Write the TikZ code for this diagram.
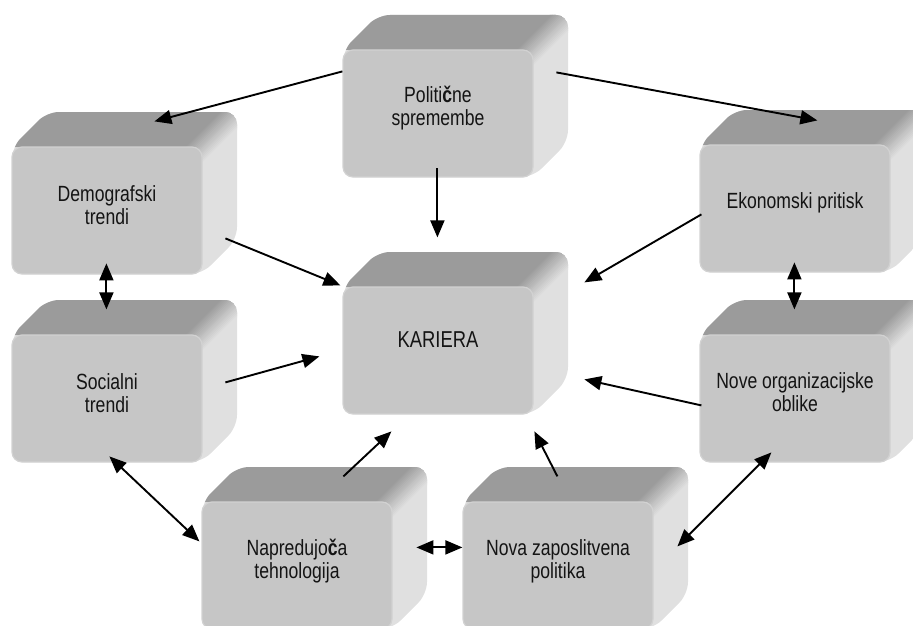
\documentclass[tikz,border=0pt]{standalone}
\usepackage{fontspec}
\setmainfont{Liberation Sans}[FakeStretch=0.8]
\usetikzlibrary{arrows.meta}
\definecolor{topc}{HTML}{9B9B9B}
\definecolor{sidec}{HTML}{E0E0E0}
\definecolor{frontc}{HTML}{C6C6C6}
\definecolor{edgec}{HTML}{D2D2D2}
\definecolor{txtc}{HTML}{141414}
\tikzset{
  face/.style={rectangle, rounded corners=10pt, fill=frontc, draw=edgec, line width=1.2pt,
    minimum width=190pt, minimum height=127pt, inner sep=0pt},
  lbl/.style={align=center, text=txtc, inner sep=0pt},
  tip/.style={Triangle[length=17pt,width=14pt]},
  arr/.style={line width=1.9pt, -{Triangle[length=17pt,width=14pt]}},
  darr/.style={line width=1.9pt, {Triangle[length=17pt,width=14pt]}-{Triangle[length=17pt,width=14pt]}},
}
\newcommand\cubebox[6]{% name, X, Y, text, text offset, font size
  \begin{scope}
    \clip[rounded corners=12pt] (#2,#3) -- ++(35,-35) -- ++(190,0) -- ++(0,127) -- ++(-35,35) -- ++(-190,0) -- cycle;
    \fill[sidec] (#2-5,#3-40) rectangle (#2+230,#3+135);
    \fill[topc] (#2,#3) -- ++(35,-35) -- ++(190,0) -- ++(-35,35) -- cycle;
    \foreach \t in {-12,-10.5,...,12}{
      \pgfmathsetmacro\pp{(\t+12)*100/24}
      \draw[line width=1.9pt, color=sidec!\pp!topc]
        (#2+190+\t*0.7071-20, #3+\t*0.7071+20) -- ++(80,-80);
    }
  \end{scope}
  \node[face] (#1) at (#2+95,#3+63.5) {};
  \node[lbl, font=\fontsize{#6}{23}\selectfont] (#1-t) at (#2+95,#3+63.5-#5) {#4};
}
\begin{document}
\begin{tikzpicture}[x=1pt, y=-1pt]
\useasboundingbox (0,0) rectangle (913,626);
\clip (0,0) rectangle (913,626);

\cubebox{pol}{343}{50}{Politi\textbf{č}ne\\spremembe}{5}{22}
\cubebox{dem}{12}{147}{Demografski\\trendi}{5}{22}
\cubebox{ekon}{700}{145}{Ekonomski pritisk}{6}{22}
\cubebox{kar}{343}{287}{KARIERA}{11}{23}
\cubebox{soc}{12}{335}{Socialni\\trendi}{5}{22}
\cubebox{nove}{700}{335}{Nove organizacijske\\oblike}{6}{22}
\cubebox{napr}{202}{502}{Napredujo\textbf{č}a\\tehnologija}{4}{22}
\cubebox{nova}{463}{502}{Nova zaposlitvena\\politika}{4}{22}

% connectors
\draw[arr] ([shift={(0,22)}]pol.north west) -- ([shift={(143,-25)}]dem.north west);
\draw[arr] ([shift={(214,23)}]pol.north west) -- ([shift={(118,-24)}]ekon.north west);
\draw[arr] ([shift={(95,119)}]pol.north west) -- ([shift={(95,-49)}]kar.north west);
\draw[arr] ([shift={(214,92)}]dem.north west) -- ([shift={(-2,-1)}]kar.north west);
\draw[darr] ([shift={(95,117)}]dem.north west) -- ([shift={(95,-25)}]soc.north west);
\draw[arr] ([shift={(214,48)}]soc.north west) -- ([shift={(-23,70)}]kar.north west);
\draw[darr] ([shift={(98,122)}]soc.north west) -- ([shift={(-2,40)}]napr.north west);
\draw[darr] ([shift={(215,46)}]napr.north west) -- ([shift={(0,46)}]nova.north west);
\draw[arr] ([shift={(142,-25)}]napr.north west) -- ([shift={(49,145)}]kar.north west);
\draw[arr] ([shift={(95,-25)}]nova.north west) -- ([shift={(192,145)}]kar.north west);
\draw[darr] ([shift={(215,45)}]nova.north west) -- ([shift={(72,118)}]nove.north west);
\draw[arr] ([shift={(2,71)}]nove.north west) -- ([shift={(242,93)}]kar.north west);
\draw[arr] ([shift={(2,70)}]ekon.north west) -- ([shift={(242,-4)}]kar.north west);
\draw[darr] ([shift={(95,118)}]ekon.north west) -- ([shift={(95,-25)}]nove.north west);
\end{tikzpicture}
\end{document}
